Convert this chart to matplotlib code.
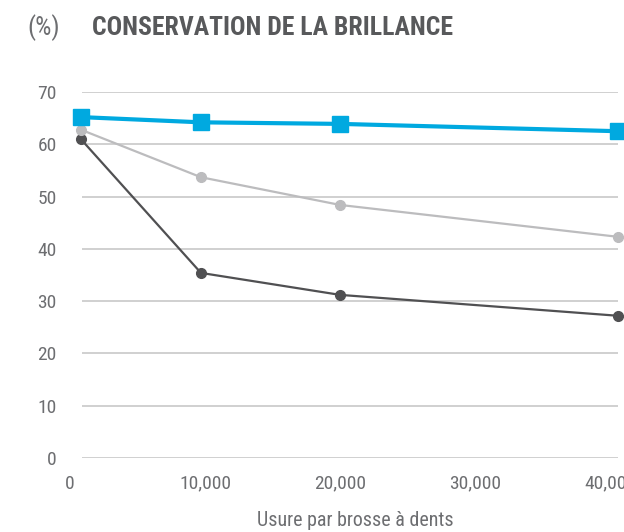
import matplotlib
matplotlib.use("Agg")
import matplotlib.pyplot as plt
from matplotlib import font_manager

# usure (nombre de passages de brosse) et brillance conservée (%)
usure = [800, 9700, 20000, 40600]
serie_bleue = [65.2, 64.2, 63.9, 62.5]
serie_gris_clair = [62.8, 53.7, 48.4, 42.3]
serie_gris_fonce = [61.0, 35.4, 31.2, 27.2]

y_ticks = [0, 10, 20, 30, 40, 50, 60, 70]
x_ticks = [0, 10000, 20000, 30000, 40000]
x_labels = ["0", "10,000", "20,000", "30,000", "40,000"]

# pick a narrow face if one is installed, otherwise Liberation Sans
names = {f.name for f in font_manager.fontManager.ttflist}
preferred = ["Liberation Sans Narrow", "Roboto Condensed", "Open Sans Condensed"]
narrow = [n for n in preferred if n in names]
if not narrow:
    narrow = sorted(n for n in names if ("Narrow" in n or "Condensed" in n)
                    and "Light" not in n and "Thin" not in n)
families = narrow[:1] + ['Liberation Sans', 'DejaVu Sans']
plt.rcParams['font.family'] = families
is_narrow = bool(narrow)
text_color = "#6d6e71"

fig = plt.figure(figsize=(6.24, 5.32), dpi=100)
ax = fig.add_axes([70 / 624, 74 / 532, 553.5 / 624, 366 / 532])

ax.set_xlim(0, 41000)
ax.set_ylim(0, 70)

# gridlines only over the plotting band
ax.hlines(y_ticks, 889, 40593, color="#c8c8c8", linewidth=1.2, zorder=1)

ax.plot(usure, serie_gris_fonce, color="#505052", linewidth=1.6,
        marker="o", markersize=7, clip_on=False, zorder=3)
ax.plot(usure, serie_gris_clair, color="#bcbcbe", linewidth=1.6,
        marker="o", markersize=7, clip_on=False, zorder=3)
ax.plot(usure, serie_bleue, color="#00a9e0", linewidth=3,
        marker="s", markersize=11, clip_on=False, zorder=4)

for s in ax.spines.values():
    s.set_visible(False)

tick_size = 14 if is_narrow else 12.5
ax.set_yticks(y_ticks)
ax.set_yticklabels([str(v) for v in y_ticks])
ax.set_xticks(x_ticks)
ax.set_xticklabels(x_labels)
ax.tick_params(length=0, labelsize=tick_size, colors=text_color)
ax.tick_params(axis="y", pad=9.5)
ax.tick_params(axis="x", pad=12)

fig.text(355 / 624, 1 - 521 / 532, "Usure par brosse à dents",
         fontsize=14.4 if is_narrow else 13,
         color=text_color, ha="center", va="center")

title_size = 18.5 if is_narrow else 15
fig.text(27 / 624, 1 - 28 / 532, "(%)", fontsize=title_size, color=text_color, va="center")
fig.text(92 / 624, 1 - 28 / 532, "CONSERVATION DE LA BRILLANCE", fontsize=title_size,
         fontweight="bold", color="#58595b", va="center")

fig.savefig("out.png", dpi=100)
